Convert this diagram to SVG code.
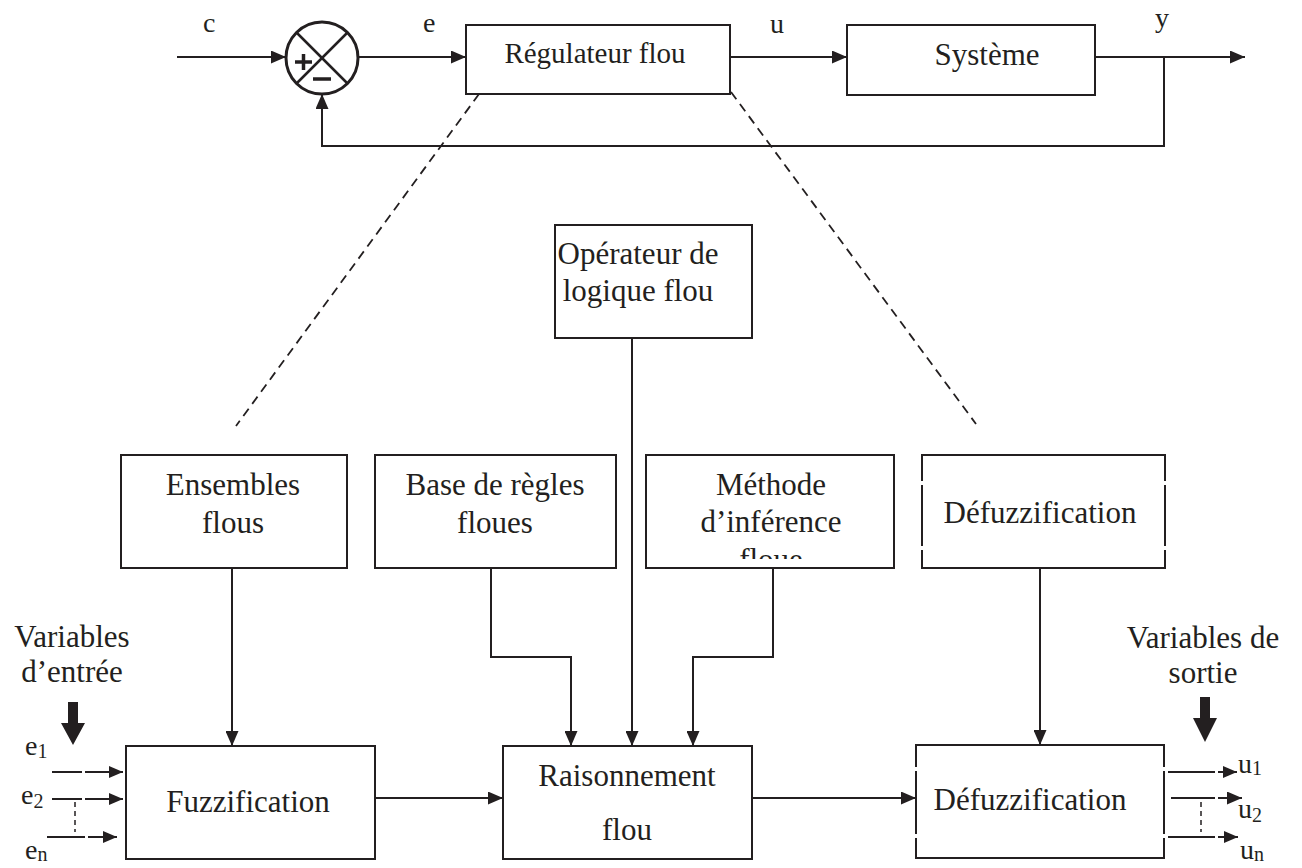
<svg xmlns="http://www.w3.org/2000/svg" width="1302" height="868" viewBox="0 0 1302 868">
<style>
.t{font-family:"Liberation Serif","Times New Roman",serif;font-size:31px;fill:#231f20;text-anchor:middle}
.s{font-family:"Liberation Serif","Times New Roman",serif;font-size:28px;fill:#231f20}
.sub{font-size:20px}
.box{fill:#fff;stroke:#231f20;stroke-width:2}
.ln{fill:none;stroke:#231f20;stroke-width:2}
.dash{fill:none;stroke:#231f20;stroke-width:1.8;stroke-dasharray:9 6}
.dot{fill:none;stroke:#231f20;stroke-width:1.5;stroke-dasharray:5 4}
.gap{fill:#fff;stroke:none}
</style>
<defs>
<marker id="ah" markerUnits="userSpaceOnUse" markerWidth="15" markerHeight="13" refX="15" refY="6.5" orient="auto">
<path d="M0,0 L15,6.5 L0,13 z" fill="#231f20"/>
</marker>
<marker id="ahs" markerUnits="userSpaceOnUse" markerWidth="14" markerHeight="12" refX="14" refY="6" orient="auto">
<path d="M0,0 L14,6 L0,12 z" fill="#231f20"/>
</marker>
<clipPath id="clipM"><rect x="646" y="455" width="248" height="104"/></clipPath>
</defs>

<!-- Top loop -->
<g id="sum">
<circle cx="322" cy="58" r="36" fill="#fff" stroke="#231f20" stroke-width="3"/>
<line x1="297" y1="33" x2="347" y2="83" stroke="#231f20" stroke-width="2.5"/>
<line x1="347" y1="33" x2="297" y2="83" stroke="#231f20" stroke-width="2.5"/>
<line x1="295" y1="62" x2="312" y2="62" stroke="#231f20" stroke-width="3.5"/>
<line x1="303.5" y1="54" x2="303.5" y2="70" stroke="#231f20" stroke-width="3.5"/>
<line x1="313" y1="79" x2="331" y2="79" stroke="#231f20" stroke-width="3.5"/>
</g>
<g id="regulateur">
<rect class="box" x="466" y="25" width="264" height="69"/>
<text class="t" x="595" y="63" style="font-size:29px">Régulateur flou</text>
</g>
<g id="systeme">
<rect class="box" x="847" y="25" width="248" height="70"/>
<text class="t" x="987" y="65">Système</text>
</g>

<!-- Middle/bottom nodes -->
<g id="operateur">
<rect class="box" x="555" y="225" width="197" height="113"/>
<text class="t" x="638" y="264">Opérateur de</text>
<text class="t" x="638" y="301">logique flou</text>
</g>
<g id="ensembles">
<rect class="box" x="121" y="455" width="226" height="113"/>
<text class="t" x="233" y="495">Ensembles</text>
<text class="t" x="233" y="533">flous</text>
</g>
<g id="base">
<rect class="box" x="375" y="455" width="241" height="113"/>
<text class="t" x="495" y="495">Base de règles</text>
<text class="t" x="495" y="533">floues</text>
</g>
<g id="methode">
<rect class="box" x="646" y="455" width="248" height="113"/>
<text class="t" x="771" y="495">Méthode</text>
<text class="t" x="771" y="532">d’inférence</text>
<text class="t" x="771" y="570" clip-path="url(#clipM)">floue</text>
</g>
<g id="defuzz-top">
<rect class="box" x="922" y="455" width="243" height="113"/>
<rect class="gap" x="920" y="481" width="4" height="4"/>
<rect class="gap" x="920" y="546" width="4" height="4"/>
<rect class="gap" x="1163" y="481" width="4" height="4"/>
<rect class="gap" x="1163" y="546" width="4" height="4"/>
<text class="t" x="1040" y="523">Défuzzification</text>
</g>
<g id="fuzzification">
<rect class="box" x="126" y="746" width="249" height="113"/>
<text class="t" x="248" y="812">Fuzzification</text>
</g>
<g id="raisonnement">
<rect class="box" x="503" y="746" width="249" height="113"/>
<text class="t" x="627" y="786">Raisonnement</text>
<text class="t" x="627" y="840">flou</text>
</g>
<g id="defuzz-bottom">
<rect class="box" x="916" y="745" width="248" height="113"/>
<rect class="gap" x="914" y="767" width="4" height="4"/>
<rect class="gap" x="914" y="834" width="4" height="4"/>
<rect class="gap" x="1162" y="767" width="4" height="4"/>
<rect class="gap" x="1162" y="834" width="4" height="4"/>
<text class="t" x="1030" y="810">Défuzzification</text>
</g>

<!-- Labels -->
<g id="labels">
<text class="s" x="203" y="32">c</text>
<text class="s" x="423" y="32">e</text>
<text class="s" x="770" y="33">u</text>
<text class="s" x="1155" y="27">y</text>
<text class="t" x="72" y="647">Variables</text>
<text class="t" x="72" y="682">d’entrée</text>
<text class="t" x="1203" y="648">Variables de</text>
<text class="t" x="1203" y="683">sortie</text>
<text class="s" x="25" y="755">e<tspan class="sub" dy="3">1</tspan></text>
<text class="s" x="21" y="804">e<tspan class="sub" dy="4">2</tspan></text>
<text class="s" x="25" y="859">e<tspan class="sub" dy="2">n</tspan></text>
<text class="s" x="1238" y="773">u<tspan class="sub" dy="2">1</tspan></text>
<text class="s" x="1238" y="818">u<tspan class="sub" dy="4">2</tspan></text>
<text class="s" x="1240" y="859">u<tspan class="sub" dy="2">n</tspan></text>
</g>

<!-- Connectors -->
<g id="connectors">
<line class="ln" x1="177" y1="57" x2="286" y2="57" marker-end="url(#ah)"/>
<line class="ln" x1="358" y1="57" x2="466" y2="57" marker-end="url(#ah)"/>
<line class="ln" x1="730" y1="57" x2="847" y2="57" marker-end="url(#ah)"/>
<line class="ln" x1="1095" y1="57" x2="1245" y2="57" marker-end="url(#ah)"/>
<polyline class="ln" points="1164,57 1164,146 322,146 322,94" marker-end="url(#ah)"/>

<line class="dash" x1="479" y1="94" x2="236" y2="426"/>
<line class="dash" x1="731" y1="92" x2="976" y2="424"/>

<line class="ln" x1="232" y1="568" x2="232" y2="746" marker-end="url(#ah)"/>
<polyline class="ln" points="491,568 491,657 571,657 571,746" marker-end="url(#ah)"/>
<line class="ln" x1="632" y1="338" x2="632" y2="746" marker-end="url(#ah)"/>
<polyline class="ln" points="773,568 773,657 693,657 693,746" marker-end="url(#ah)"/>
<line class="ln" x1="1040" y1="568" x2="1040" y2="745" marker-end="url(#ah)"/>

<line class="ln" x1="375" y1="798" x2="503" y2="798" marker-end="url(#ah)"/>
<line class="ln" x1="752" y1="798" x2="916" y2="798" marker-end="url(#ah)"/>

<!-- input arrows -->
<line class="ln" x1="52" y1="772" x2="82" y2="772"/>
<line class="ln" x1="85" y1="772" x2="123" y2="772" marker-end="url(#ahs)"/>
<line class="ln" x1="52" y1="799" x2="82" y2="799"/>
<line class="ln" x1="85" y1="799" x2="123" y2="799" marker-end="url(#ahs)"/>
<line class="ln" x1="47" y1="837" x2="85" y2="837"/>
<line class="ln" x1="88" y1="837" x2="117" y2="837" marker-end="url(#ahs)"/>
<line class="dot" x1="75" y1="802" x2="75" y2="832"/>

<!-- output arrows -->
<line class="ln" x1="1168" y1="772" x2="1215" y2="772"/>
<line class="ln" x1="1218" y1="772" x2="1237" y2="772" marker-end="url(#ahs)"/>
<line class="ln" x1="1171" y1="798" x2="1215" y2="798"/>
<line class="ln" x1="1218" y1="798" x2="1242" y2="798" marker-end="url(#ah)"/>
<line class="ln" x1="1168" y1="837" x2="1215" y2="837"/>
<line class="ln" x1="1218" y1="837" x2="1238" y2="837" marker-end="url(#ahs)"/>
<line class="dot" x1="1201" y1="802" x2="1201" y2="832"/>

<!-- thick arrows -->
<path d="M68,702 H78 V723 H85 L73,745 L61,723 H68 Z" fill="#231f20"/>
<path d="M1200,697 H1210 V718 H1217 L1205,742 L1193,718 H1200 Z" fill="#231f20"/>
</g>
</svg>
